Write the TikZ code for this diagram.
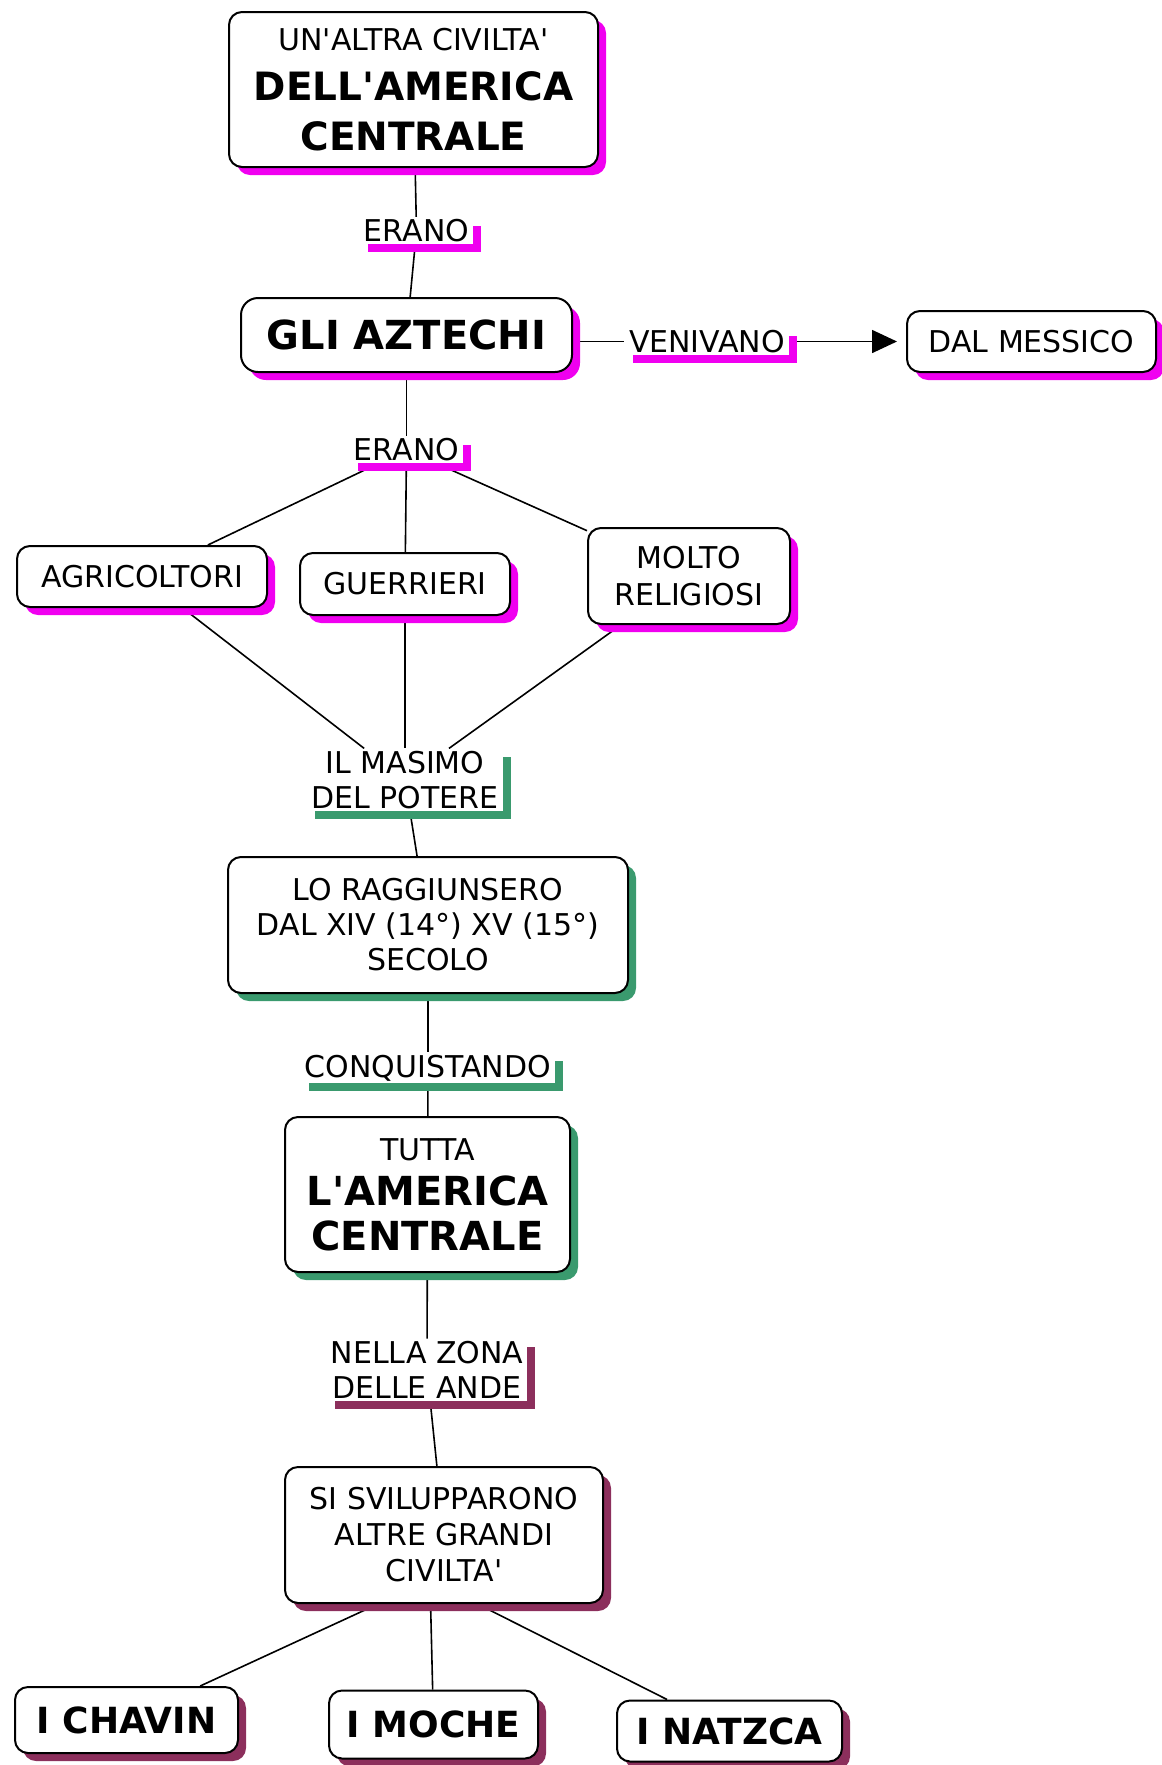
\documentclass[tikz,border=0pt]{standalone}
\usepackage{fontspec}
\setmainfont{DejaVu Sans}
\newfontfamily\mapfont{DejaVu Sans}
\usetikzlibrary{arrows.meta,shadows,backgrounds}

\definecolor{shpink}{HTML}{F000F0}
\definecolor{shgreen}{HTML}{3A9A6E}
\definecolor{shplum}{HTML}{8C2F5C}

\newcommand{\bigword}[2]{{\fontsize{#1}{#1}\selectfont\bfseries #2}}

\tikzset{
  concept/.style={draw=black,line width=2pt,rounded corners=13pt,fill=white,align=center,inner sep=0pt},
  linkword/.style={fill=white,align=center,inner xsep=4pt,inner ysep=2pt},
  pinkshade/.style={drop shadow={shadow xshift=8pt,shadow yshift=-8pt,fill=shpink,opacity=1}},
  greenshade/.style={drop shadow={shadow xshift=8pt,shadow yshift=-8pt,fill=shgreen,opacity=1}},
  plumshade/.style={drop shadow={shadow xshift=8pt,shadow yshift=-8pt,fill=shplum,opacity=1}}
}

\begin{document}
\begin{tikzpicture}[x=1pt,y=-1pt,line width=1.5pt,font=\mapfont\fontsize{30}{35}\selectfont,>={Triangle[length=25pt,width=23pt]}]
  \useasboundingbox (0,0) rectangle (1162,1765);

  \node[concept,pinkshade,minimum width=369pt,minimum height=155pt,font=\mapfont\fontsize{30}{50}\selectfont] (altra) at (413.5,89.5) {UN'ALTRA CIVILTA'\\\bigword{39}{DELL'AMERICA}\\\bigword{39}{CENTRALE}};
  \node[linkword,pinkshade] (erano1) at (416.5,231) {ERANO};
  \node[concept,pinkshade,minimum width=331pt,minimum height=74pt,rounded corners=17pt,font=\mapfont\fontsize{40}{48}\selectfont\bfseries] (aztechi) at (406.5,335) {GLI AZTECHI};
  \node[linkword,pinkshade] (venivano) at (707,341.5) {VENIVANO};
  \node[concept,pinkshade,minimum width=249pt,minimum height=61pt] (messico) at (1031.5,341.5) {DAL MESSICO};
  \node[linkword,pinkshade] (erano2) at (406.5,450) {ERANO};
  \node[concept,pinkshade,minimum width=250pt,minimum height=61pt] (agricoltori) at (142,576.5) {AGRICOLTORI};
  \node[concept,pinkshade,minimum width=210pt,minimum height=62pt] (guerrieri) at (405,584) {GUERRIERI};
  \node[concept,pinkshade,minimum width=202pt,minimum height=96pt,font=\mapfont\fontsize{30}{37}\selectfont] (religiosi) at (689,576) {MOLTO\\RELIGIOSI};
  \node[linkword,greenshade] (potere) at (405,780) {IL MASIMO\\DEL POTERE};
  \node[concept,greenshade,minimum width=400pt,minimum height=136pt] (secolo) at (428,925) {LO RAGGIUNSERO\\DAL XIV (14°) XV (15°)\\SECOLO};
  \node[linkword,greenshade] (conquistando) at (428,1068) {CONQUISTANDO};
  \node[concept,greenshade,minimum width=285pt,minimum height=155pt,font=\mapfont\fontsize{30}{45}\selectfont] (centrale) at (427.5,1194.5) {TUTTA\\\bigword{40}{L'AMERICA}\\\bigword{40}{CENTRALE}};
  \node[linkword,plumshade] (ande) at (427,1370) {NELLA ZONA\\DELLE ANDE};
  \node[concept,plumshade,minimum width=318pt,minimum height=136pt,font=\mapfont\fontsize{30}{36}\selectfont] (civilta) at (444,1535) {SI SVILUPPARONO\\ALTRE GRANDI\\CIVILTA'};
  \node[concept,plumshade,minimum width=223pt,minimum height=66pt,font=\mapfont\fontsize{36}{42}\selectfont\bfseries] (chavin) at (126.5,1720) {I CHAVIN};
  \node[concept,plumshade,minimum width=209pt,minimum height=68pt,font=\mapfont\fontsize{36}{42}\selectfont\bfseries] (moche) at (433.5,1724.5) {I MOCHE};
  \node[concept,plumshade,minimum width=225pt,minimum height=61pt,font=\mapfont\fontsize{36}{42}\selectfont\bfseries] (natzca) at (729.5,1731) {I NATZCA};
  \coordinate (fork) at (430,1580);
  \coordinate (origin) at (aztechi |- venivano);

  % connectors run under the boxes and their shadows
  \begin{scope}[on background layer]
  \path[line width=1.6pt]
  (altra) edge (erano1)
  (erano1) edge (aztechi)
  (origin) edge (venivano)
  (aztechi) edge (erano2)
  (venivano) edge[->,shorten >=9pt] (messico)
  (erano2) edge (agricoltori)
  edge (guerrieri)
  edge (religiosi)
  (agricoltori) edge (potere)
  (guerrieri) edge (potere)
  (religiosi) edge (potere)
  (potere) edge (secolo)
  (secolo) edge (conquistando)
  (conquistando) edge (centrale)
  (centrale) edge (ande)
  (ande) edge (civilta)
  (fork) edge (chavin)
  edge (moche)
  edge (natzca);
  \end{scope}
\end{tikzpicture}
\end{document}
